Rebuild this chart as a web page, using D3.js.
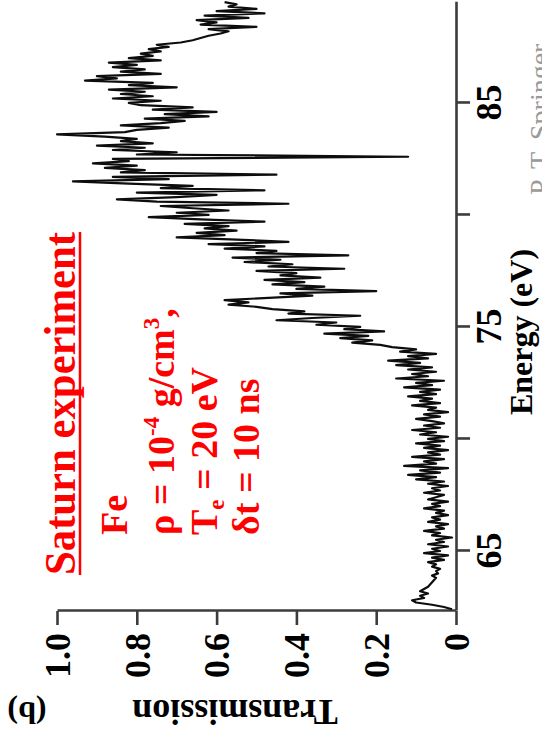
<!DOCTYPE html>
<html>
<head>
<meta charset="utf-8">
<script src="https://cdn.jsdelivr.net/npm/d3@7"></script>
<style>
  html, body { margin: 0; padding: 0; background: #fff; }
  svg { display: block; }
  text { font-family: "Liberation Serif", "Times New Roman", serif; }
</style>
</head>
<body>
<svg id="chart" width="542" height="747"></svg>
<script>
// ---- data (Fe transmission, Saturn experiment) ----
const energy = [
  62.4,62.5,62.6,62.7,62.8,62.9,63.0,63.1,63.2,63.3,
  63.4,63.5,63.6,63.7,63.8,63.9,64.0,64.1,64.2,64.3,
  64.4,64.5,64.6,64.7,64.8,64.9,65.0,65.1,65.2,65.3,
  65.4,65.5,65.6,65.7,65.8,65.9,66.0,66.1,66.2,66.3,
  66.4,66.5,66.6,66.7,66.8,66.9,67.0,67.1,67.2,67.3,
  67.4,67.5,67.6,67.7,67.8,67.9,68.0,68.1,68.2,68.3,
  68.4,68.5,68.6,68.7,68.8,68.9,69.0,69.1,69.2,69.3,
  69.4,69.5,69.6,69.7,69.8,69.9,70.0,70.1,70.2,70.3,
  70.4,70.5,70.6,70.7,70.8,70.9,71.0,71.1,71.2,71.3,
  71.4,71.5,71.6,71.7,71.8,71.9,72.0,72.1,72.2,72.3,
  72.4,72.5,72.6,72.7,72.8,72.9,73.0,73.1,73.2,73.3,
  73.4,73.5,73.6,73.7,73.8,73.9,74.0,74.1,74.2,74.3,
  74.4,74.5,74.6,74.7,74.8,74.9,75.0,75.1,75.2,75.3,
  75.4,75.5,75.6,75.7,75.8,75.9,76.0,76.1,76.2,76.3,
  76.4,76.5,76.6,76.7,76.8,76.9,77.0,77.1,77.2,77.3,
  77.4,77.5,77.6,77.7,77.8,77.9,78.0,78.1,78.2,78.3,
  78.4,78.5,78.6,78.7,78.8,78.9,79.0,79.1,79.2,79.3,
  79.4,79.5,79.6,79.7,79.8,79.9,80.0,80.1,80.2,80.3,
  80.4,80.5,80.6,80.7,80.8,80.9,81.0,81.1,81.2,81.3,
  81.4,81.5,81.6,81.7,81.8,81.9,82.0,82.1,82.2,82.3,
  82.4,82.5,82.6,82.7,82.8,82.9,83.0,83.1,83.2,83.3,
  83.4,83.5,83.6,83.7,83.8,83.9,84.0,84.1,84.2,84.3,
  84.4,84.5,84.6,84.7,84.8,84.9,85.0,85.1,85.2,85.3,
  85.4,85.5,85.6,85.7,85.8,85.9,86.0,86.1,86.2,86.3,
  86.4,86.5,86.6,86.7,86.8,86.9,87.0,87.1,87.2,87.3,
  87.4,87.5,87.6,87.7,87.8,87.9,88.0,88.1,88.2,88.3,
  88.4,88.5,88.6,88.7,88.8,88.9,89.0,89.1,89.2,89.3,
  89.4,89.5
];
const transmission = [
  0.01,0.03,0.06,0.10,0.11,0.08,0.09,0.07,0.09,0.08,
  0.07,0.065,0.06,0.055,0.05,0.06,0.045,0.05,0.04,0.06,
  0.05,0.07,0.03,0.06,0.02,0.08,0.04,0.06,0.02,0.07,
  0.03,0.05,0.01,0.06,0.04,0.08,0.03,0.05,0.02,0.07,
  0.04,0.06,0.02,0.05,0.03,0.08,0.04,0.06,0.02,0.07,
  0.05,0.03,0.08,0.04,0.06,0.02,0.07,0.03,0.10,0.05,
  0.12,0.04,0.09,0.02,0.13,0.05,0.08,0.03,0.11,0.04,
  0.07,0.02,0.08,0.04,0.10,0.03,0.07,0.02,0.09,0.05,
  0.11,0.04,0.08,0.03,0.06,0.10,0.04,0.08,0.02,0.07,
  0.05,0.11,0.04,0.09,0.06,0.12,0.05,0.09,0.04,0.13,
  0.06,0.10,0.03,0.15,0.07,0.11,0.05,0.12,0.06,0.15,
  0.09,0.17,0.07,0.12,0.05,0.14,0.10,0.16,0.19,0.26,
  0.21,0.29,0.22,0.33,0.18,0.28,0.24,0.35,0.30,0.45,
  0.36,0.24,0.42,0.38,0.46,0.50,0.57,0.52,0.58,0.47,
  0.36,0.44,0.20,0.40,0.33,0.46,0.38,0.48,0.34,0.44,
  0.40,0.50,0.28,0.47,0.41,0.53,0.44,0.56,0.27,0.50,
  0.45,0.58,0.48,0.62,0.42,0.55,0.70,0.58,0.65,0.55,
  0.63,0.57,0.68,0.48,0.64,0.77,0.62,0.70,0.57,0.66,
  0.74,0.42,0.75,0.85,0.70,0.60,0.80,0.48,0.74,0.66,
  0.82,0.96,0.72,0.86,0.45,0.84,0.78,0.88,0.80,0.91,
  0.82,0.86,0.12,0.80,0.70,0.86,0.78,0.90,0.76,0.84,
  0.80,0.88,1.00,0.83,0.80,0.72,0.84,0.74,0.68,0.78,
  0.62,0.73,0.60,0.76,0.66,0.79,0.82,0.74,0.86,0.76,
  0.84,0.78,0.87,0.70,0.82,0.76,0.93,0.85,0.90,0.74,
  0.84,0.78,0.86,0.80,0.87,0.74,0.82,0.76,0.79,0.74,
  0.77,0.72,0.75,0.69,0.66,0.64,0.62,0.59,0.57,0.62,
  0.50,0.64,0.60,0.65,0.52,0.63,0.48,0.60,0.50,0.57,
  0.55,0.58
];
const energyTicks = [65, 70, 75, 80, 85];
const energyTickLabels = ["65", "", "75", "", "85"];
const transTicks = [0, 0.2, 0.4, 0.6, 0.8, 1.0];
const transTickLabels = ["0", "0.2", "0.4", "0.6", "0.8", "1.0"];
const energyExtent = [62.32, 89.5];
const transExtent = [0, 1];
const xTitle = "Energy (eV)";
const yTitle = "Transmission";
const panelLabel = "(b)";
const annoTitle = "Saturn experiment";
const credit = "P. T. Springer";

// ---- layout (figure drawn upright, then rotated onto the page) ----
const W = 747, H = 542;
const svg = d3.select("#chart");
const g = svg.append("g").attr("transform", `translate(0,${W}) rotate(-90)`);

const x = d3.scaleLinear().domain(energyExtent).range([136, 136 + (energyExtent[1] - energyExtent[0]) * 22.4]);
const y = d3.scaleLinear().domain(transExtent).range([456, 57]);

const axisColor = "#3c3c3c";

// Energy axis (bottom of upright figure)
const xAxis = g.append("g")
  .attr("transform", `translate(0,${y(0)})`)
  .call(d3.axisBottom(x).tickValues(energyTicks).tickSize(14).tickSizeOuter(0)
    .tickFormat((d, i) => energyTickLabels[i]));
// Transmission axis (left of upright figure)
const yAxis = g.append("g")
  .attr("transform", `translate(${x(energyExtent[0])},0)`)
  .call(d3.axisLeft(y).tickValues(transTicks).tickSize(14).tickSizeOuter(0)
    .tickFormat((d, i) => transTickLabels[i]));

[xAxis, yAxis].forEach(ax => {
  ax.select(".domain").attr("stroke", axisColor).attr("stroke-width", 2.6);
  ax.selectAll(".tick line").attr("stroke", axisColor).attr("stroke-width", 2.6);
  ax.selectAll(".tick text").attr("fill", "#000").attr("font-weight", "bold")
    .attr("font-size", 36).attr("font-family", "'Liberation Serif', 'Times New Roman', serif");
});
xAxis.selectAll(".tick text").attr("y", 45).attr("dy", 0);
yAxis.selectAll(".tick text").attr("x", -22).attr("dy", "0.34em");

// data line
const line = d3.line()
  .x((d, i) => x(energy[i]))
  .y(d => y(d));
g.append("path")
  .datum(transmission)
  .attr("fill", "none")
  .attr("stroke", "#0d0d0d")
  .attr("stroke-width", 2.2)
  .attr("stroke-linejoin", "round")
  .attr("d", line);

// axis titles
g.append("text")
  .attr("x", 415).attr("y", 532)
  .attr("text-anchor", "middle")
  .attr("font-weight", "bold").attr("font-size", 32)
  .text(xTitle);
g.append("text")
  .attr("transform", "translate(47,235) rotate(-90)")
  .attr("text-anchor", "middle")
  .attr("font-weight", "bold").attr("font-size", 36)
  .text(yTitle);
g.append("text")
  .attr("transform", "translate(45,27) rotate(-90)")
  .attr("text-anchor", "middle")
  .attr("font-weight", "bold").attr("font-size", 32)
  .text(panelLabel);

// red annotation
const red = "#ff0000";
g.append("text")
  .attr("x", 172).attr("y", 75)
  .attr("fill", red).attr("font-weight", "bold").attr("font-size", 45)
  .attr("textLength", 343).attr("lengthAdjust", "spacingAndGlyphs")
  .text(annoTitle);
g.append("line")
  .attr("x1", 172).attr("x2", 515).attr("y1", 80).attr("y2", 80)
  .attr("stroke", red).attr("stroke-width", 2.5);

const annoFont = 38;
function annoLine(yb) {
  return g.append("text").attr("x", 212).attr("y", yb)
    .attr("fill", red).attr("font-weight", "bold").attr("font-size", annoFont);
}
annoLine(127).text("Fe");
const l2 = annoLine(174);
l2.append("tspan").text("ρ = 10");
l2.append("tspan").attr("font-size", 23).attr("dy", -15).text("-4");
l2.append("tspan").attr("dy", 15).text(" g/cm");
l2.append("tspan").attr("font-size", 23).attr("dy", -15).text("3");
l2.append("tspan").attr("dy", 15).text(",");
const l3 = annoLine(217);
l3.append("tspan").text("T");
l3.append("tspan").attr("font-size", 23).attr("dy", 7).text("e");
l3.append("tspan").attr("dy", -7).text(" = 20 eV");
annoLine(259).text("δt = 10 ns");

// credit at the page edge (partly clipped, as in the source figure)
g.append("text")
  .attr("x", 552).attr("y", 549)
  .attr("fill", "#999").attr("font-size", 28)
  .text(credit);
</script>
</body>
</html>
